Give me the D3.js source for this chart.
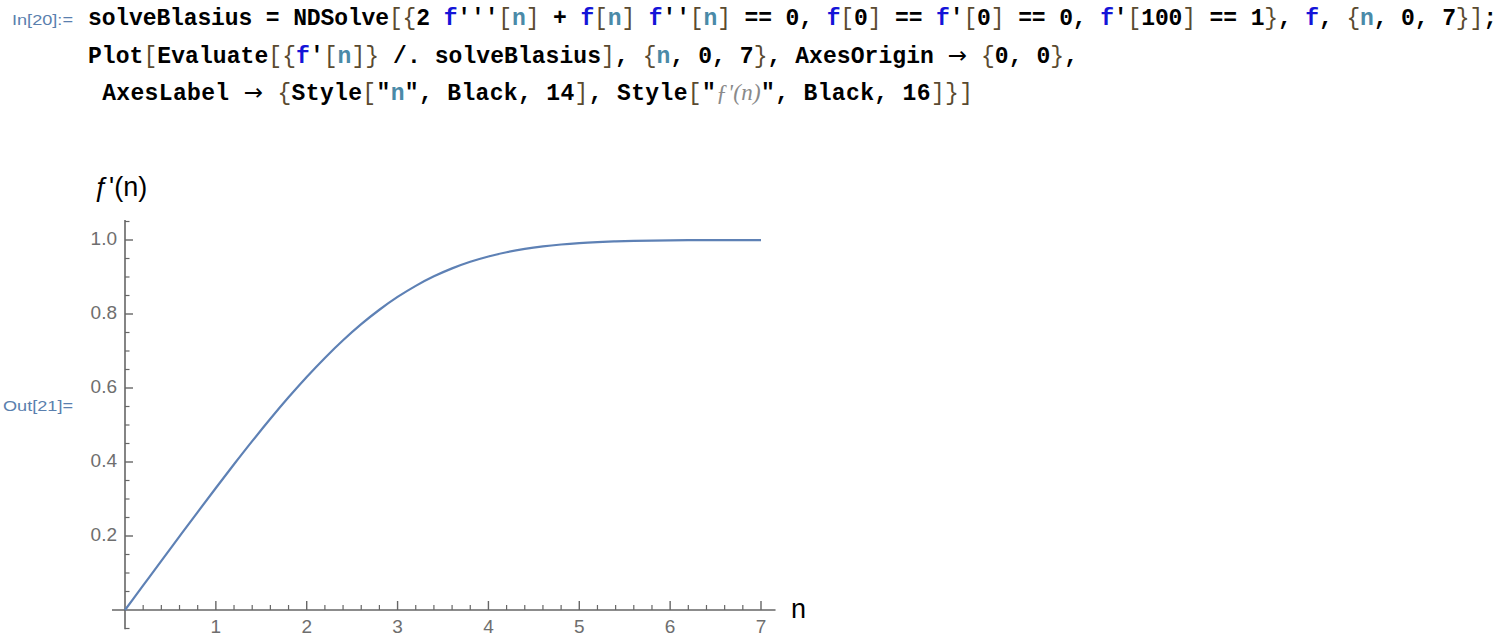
<!DOCTYPE html>
<html>
<head>
<meta charset="utf-8">
<script src="https://cdn.jsdelivr.net/npm/d3@7"></script>
<style>
  html, body { margin: 0; padding: 0; background: #fff; }
  svg { display: block; }
</style>
</head>
<body>
<svg id="chart" width="1509" height="644"></svg>
<script>
// ---- data (Blasius solution f'(n)) ----
const etaValues = [0, 0.2, 0.4, 0.6, 0.8, 1.0, 1.2, 1.4, 1.6, 1.8, 2.0, 2.2, 2.4, 2.6, 2.8, 3.0, 3.2, 3.4, 3.6, 3.8, 4.0, 4.2, 4.4, 4.6, 4.8, 5.0, 5.2, 5.4, 5.6, 5.8, 6.0, 6.2, 6.4, 6.6, 6.8, 7.0];
const fPrimeValues = [0, 0.0664, 0.1328, 0.1989, 0.2647, 0.3298, 0.3938, 0.4563, 0.5168, 0.5748, 0.6298, 0.6813, 0.7290, 0.7725, 0.8115, 0.8461, 0.8761, 0.9018, 0.9233, 0.9411, 0.9555, 0.9670, 0.9759, 0.9827, 0.9878, 0.9916, 0.9943, 0.9962, 0.9975, 0.9984, 0.9990, 0.9994, 0.9996, 0.9998, 0.9999, 0.9999];
const xTickLabels = ["1", "2", "3", "4", "5", "6", "7"];
const yTickLabels = ["0.2", "0.4", "0.6", "0.8", "1.0"];
const xLabel = "n";
const yLabel = "ƒ'(n)";
const inLabel = "In[20]:=";
const outLabel = "Out[21]=";
const codeLines = [
  "solveBlasius = NDSolve[{2 f'''[n] + f[n] f''[n] == 0, f[0] == f'[0] == 0, f'[100] == 1}, f, {n, 0, 7}];",
  "Plot[Evaluate[{f'[n]} /. solveBlasius], {n, 0, 7}, AxesOrigin \u2192 {0, 0},",
  " AxesLabel \u2192 {Style[\"n\", Black, 14], Style[\"\u0192'(n)\", Black, 16]}]"
];

const svg = d3.select("#chart");

// ---- code cell ----
const lineGeom = [
  {x: 88, y: 25, end: 1497},
  {x: 88, y: 63, end: 1078},
  {x: 88, y: 100, end: 973}
];

function tokenize(line) {
  const toks = [];
  let i = 0;
  const isLetter = c => c !== undefined && /[A-Za-z0-9]/.test(c);
  while (i < line.length) {
    const c = line[i];
    if (c === "\u0192") {
      // string content ƒ'(n)
      let j = line.indexOf("\"", i);
      toks.push({t: line.slice(i, j), s: "str"});
      i = j;
      continue;
    }
    if ("[]{}".includes(c)) { toks.push({t: c, s: "br"}); i++; continue; }
    if (c === "\u2192") { toks.push({t: c, s: "arrow"}); i++; continue; }
    if ((c === "f" || c === "n") && !isLetter(line[i - 1]) && !isLetter(line[i + 1])) {
      toks.push({t: c, s: c === "f" ? "fun" : "var"}); i++; continue;
    }
    const last = toks[toks.length - 1];
    if (last && last.s === "k") last.t += c; else toks.push({t: c, s: "k"});
    i++;
  }
  return toks;
}

const styleMap = {
  k: {fill: "#000", weight: "bold", fstyle: "normal", family: "'Liberation Mono', 'DejaVu Sans Mono', monospace"},
  fun: {fill: "#1414d8", weight: "bold", fstyle: "normal", family: "'Liberation Mono', 'DejaVu Sans Mono', monospace"},
  var: {fill: "#4a8aa8", weight: "bold", fstyle: "normal", family: "'Liberation Mono', 'DejaVu Sans Mono', monospace"},
  br: {fill: "#5a4a30", weight: "normal", fstyle: "normal", family: "'Liberation Mono', 'DejaVu Sans Mono', monospace"},
  arrow: {fill: "#000", weight: "normal", fstyle: "normal", family: "'DejaVu Sans', sans-serif"},
  str: {fill: "#8a8a8a", weight: "normal", fstyle: "italic", family: "'Liberation Serif', serif"}
};

codeLines.forEach((line, li) => {
  const g = lineGeom[li];
  const text = svg.append("text")
    .attr("x", g.x)
    .attr("y", g.y)
    .attr("font-size", 23)
    .attr("textLength", g.end - g.x)
    .attr("lengthAdjust", "spacing")
    .attr("xml:space", "preserve")
    .style("white-space", "pre");
  tokenize(line).forEach(tok => {
    const st = styleMap[tok.s];
    text.append("tspan")
      .attr("fill", st.fill)
      .attr("font-weight", st.weight)
      .attr("font-style", st.fstyle)
      .attr("font-family", st.family)
      .text(tok.t);
  });
});

svg.append("text")
  .attr("x", 12).attr("y", 25)
  .attr("font-family", "'Liberation Sans Narrow', 'Liberation Sans', Arial, sans-serif")
  .attr("font-size", 15)
  .attr("fill", "#5a7fae")
  .attr("textLength", 61).attr("lengthAdjust", "spacingAndGlyphs")
  .text(inLabel);

svg.append("text")
  .attr("x", 3).attr("y", 411)
  .attr("font-family", "'Liberation Sans Narrow', 'Liberation Sans', Arial, sans-serif")
  .attr("font-size", 15)
  .attr("fill", "#5a7fae")
  .attr("textLength", 70).attr("lengthAdjust", "spacingAndGlyphs")
  .text(outLabel);

// ---- plot ----
const x = d3.scaleLinear().domain([0, 7]).range([125, 761]);
const y = d3.scaleLinear().domain([0, 1]).range([610, 240]);
const axisColor = "#666";
const tickFill = "#6e6e6e";

const xAxisDomain = [-0.143, 7.16];
const yAxisDomain = [-0.052, 1.054];

// x axis line
svg.append("line")
  .attr("x1", x(xAxisDomain[0])).attr("x2", x(xAxisDomain[1]))
  .attr("y1", y(0)).attr("y2", y(0))
  .attr("stroke", axisColor).attr("stroke-width", 1.6);

// y axis line
svg.append("line")
  .attr("x1", x(0)).attr("x2", x(0))
  .attr("y1", y(yAxisDomain[0])).attr("y2", y(yAxisDomain[1]))
  .attr("stroke", axisColor).attr("stroke-width", 1.6);

// x ticks
const xMinor = d3.range(1, 36).map(i => i * 0.2).filter(v => Math.abs(v - Math.round(v)) > 1e-6);
const xMajor = xTickLabels.map(Number);
svg.append("g").selectAll("line.xmin").data(xMinor).join("line")
  .attr("x1", d => x(d)).attr("x2", d => x(d))
  .attr("y1", y(0)).attr("y2", y(0) - 5)
  .attr("stroke", axisColor).attr("stroke-width", 1.2);
svg.append("g").selectAll("line.xmaj").data(xMajor).join("line")
  .attr("x1", d => x(d)).attr("x2", d => x(d))
  .attr("y1", y(0)).attr("y2", y(0) - 9)
  .attr("stroke", axisColor).attr("stroke-width", 1.4);
svg.append("g").selectAll("text").data(xTickLabels).join("text")
  .attr("x", d => x(+d)).attr("y", 633)
  .attr("text-anchor", "middle")
  .attr("font-family", "'Liberation Sans', Arial, sans-serif")
  .attr("font-size", 19)
  .attr("fill", tickFill)
  .text(d => d);

// y ticks
const yMinor = [-0.05].concat(d3.range(1, 22).map(i => i * 0.05).filter(v => Math.abs(v * 5 - Math.round(v * 5)) > 1e-6));
const yMajor = yTickLabels.map(Number);
svg.append("g").selectAll("line").data(yMinor).join("line")
  .attr("x1", x(0)).attr("x2", x(0) + 4.5)
  .attr("y1", d => y(d)).attr("y2", d => y(d))
  .attr("stroke", axisColor).attr("stroke-width", 1.2);
svg.append("g").selectAll("line").data(yMajor).join("line")
  .attr("x1", x(0)).attr("x2", x(0) + 8)
  .attr("y1", d => y(d)).attr("y2", d => y(d))
  .attr("stroke", axisColor).attr("stroke-width", 1.4);
svg.append("g").selectAll("text").data(yTickLabels).join("text")
  .attr("x", 117).attr("y", d => y(+d) + 5)
  .attr("text-anchor", "end")
  .attr("font-family", "'Liberation Sans', Arial, sans-serif")
  .attr("font-size", 19)
  .attr("fill", tickFill)
  .text(d => d);

// axis labels
svg.append("text")
  .attr("x", 94).attr("y", 196)
  .attr("font-family", "'Liberation Sans', Arial, sans-serif")
  .attr("font-size", 27)
  .attr("fill", "#000")
  .text(yLabel);
svg.append("text")
  .attr("x", 791).attr("y", 618)
  .attr("font-family", "'Liberation Sans', Arial, sans-serif")
  .attr("font-size", 27)
  .attr("fill", "#000")
  .text(xLabel);

// curve
const data = etaValues.map((e, i) => ({e, v: fPrimeValues[i]}));
const line = d3.line().x(d => x(d.e)).y(d => y(d.v)).curve(d3.curveMonotoneX);
svg.append("path")
  .datum(data)
  .attr("d", line)
  .attr("fill", "none")
  .attr("stroke", "#5e81b5")
  .attr("stroke-width", 2.2);
</script>
</body>
</html>
